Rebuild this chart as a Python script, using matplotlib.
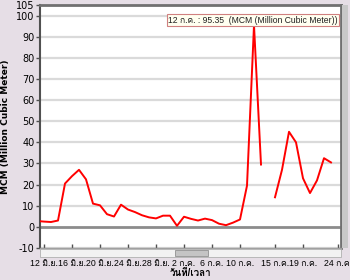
import numpy as np
import matplotlib as mpl
mpl.use('Agg')
import matplotlib.pyplot as plt
from matplotlib import font_manager
from matplotlib.ft2font import FT2Font
from matplotlib.patches import Rectangle

# ---------------------------------------------------------------
# data (day 0 = 12 มิ.ย.)

days = list(range(-1, 42))
values = [2.8, 2.5, 2.3, 3.0, 20.5, 24.0, 27.0, 22.5, 11.0, 10.2, 6.0,
          4.9, 10.5, 8.2, 7.0, 5.5, 4.5, 4.0, 5.3, 5.3, 0.5, 4.8,
          3.8, 3.0, 3.9, 3.2, 1.5, 0.8, 2.0, 3.5, 19.5, 95.35, 29.5,
          np.nan, 14.0, 27.0, 45.0, 40.0, 23.0, 16.0, 22.0, 32.5, 30.5]

tick_days = [0, 4, 8, 12, 16, 20, 24, 28, 33, 37, 42]
tick_labels = ["12 มิ.ย.", "16 มิ.ย.", "20 มิ.ย.", "24 มิ.ย.", "28 มิ.ย.",
               "2 ก.ค.", "6 ก.ค.", "10 ก.ค.", "15 ก.ค.", "19 ก.ค.", "24 ก.ค."]
y_ticks = [-10, 0, 10, 20, 30, 40, 50, 60, 70, 80, 90, 100, 105]

peak_label = "12 ก.ค. : 95.35  (MCM (Million Cubic Meter))"

# ---------------------------------------------------------------
# find a font with thai glyphs


def find_thai_font():
    for f in font_manager.fontManager.ttflist:
        try:
            if 0x0E01 in FT2Font(f.fname).get_charmap():
                return f.name
        except Exception:
            pass
    return None


thai = find_thai_font()
families = ['DejaVu Sans'] + ([thai] if thai else [])
narrow = ['Liberation Sans'] + ([thai] if thai else [])
plt.rcParams['font.family'] = families

bg = '#E6DEE6'
fig = plt.figure(figsize=(3.5, 2.8), dpi=100, facecolor=bg)
ax = fig.add_axes([40 / 350, 1 - 248 / 280, 301 / 350, 243 / 280])

ax.set_xlim(-4 / 7, 297 / 7)
ax.set_ylim(-10, 105)

for v in range(-10, 101, 10):
    if v != 0:
        ax.axhline(v, color='#DADADA', lw=1.6, zorder=1)
ax.axhline(0, color='#8C8C8C', lw=2, zorder=2)

ax.plot(days, values, color='#FF0000', lw=1.4, zorder=3)

ax.set_yticks(y_ticks)
ax.set_yticklabels([str(v) for v in y_ticks], fontsize=7)
ax.set_xticks(tick_days)
ax.set_xticklabels(tick_labels, fontsize=6.3, family=narrow)
ax.tick_params(axis='y', length=3, width=1, color='#505050', pad=1)
ax.tick_params(axis='x', length=3, width=1, color='#505050', pad=8,
               direction='in', top=False)

ax.spines['left'].set_color('#505050')
ax.spines['left'].set_linewidth(1.5)
for side in ['top', 'right']:
    ax.spines[side].set_color('#707070')
    ax.spines[side].set_linewidth(2)
ax.spines['bottom'].set_color('#A0A0A0')
ax.spines['bottom'].set_linewidth(1)

ax.set_ylabel("MCM (Million Cubic Meter)", fontsize=6.5, fontweight='bold',
              labelpad=4)
ax.set_xlabel("วันที่/เวลา", fontsize=7, fontweight='bold', labelpad=-1,
              family=narrow)

ax.text(0.425, 0.938, peak_label, transform=ax.transAxes, fontsize=6.2,
        ha='left', va='center', color='#202020', zorder=5, family=narrow,
        bbox=dict(boxstyle='square,pad=0.15', fc='#FFFFF0', ec='#D08080', lw=0.8))

# scrollbar strip under the plot
fig.patches.append(Rectangle((40 / 350, 1 - 257 / 280), 301 / 350, 8 / 280,
                             transform=fig.transFigure, fc='#F2F2F2',
                             ec='#B0B0B0', lw=0.6, zorder=0))
fig.patches.append(Rectangle((175 / 350, 1 - 256 / 280), 33 / 350, 6 / 280,
                             transform=fig.transFigure, fc='#C4C4C4',
                             ec='#909090', lw=0.6, zorder=0))
# right side strip
fig.patches.append(Rectangle((342 / 350, 1 - 248 / 280), 6 / 350, 243 / 280,
                             transform=fig.transFigure, fc='#C8C8C8',
                             ec='none', zorder=0))

plt.savefig('out.png', dpi=100, facecolor=bg)
